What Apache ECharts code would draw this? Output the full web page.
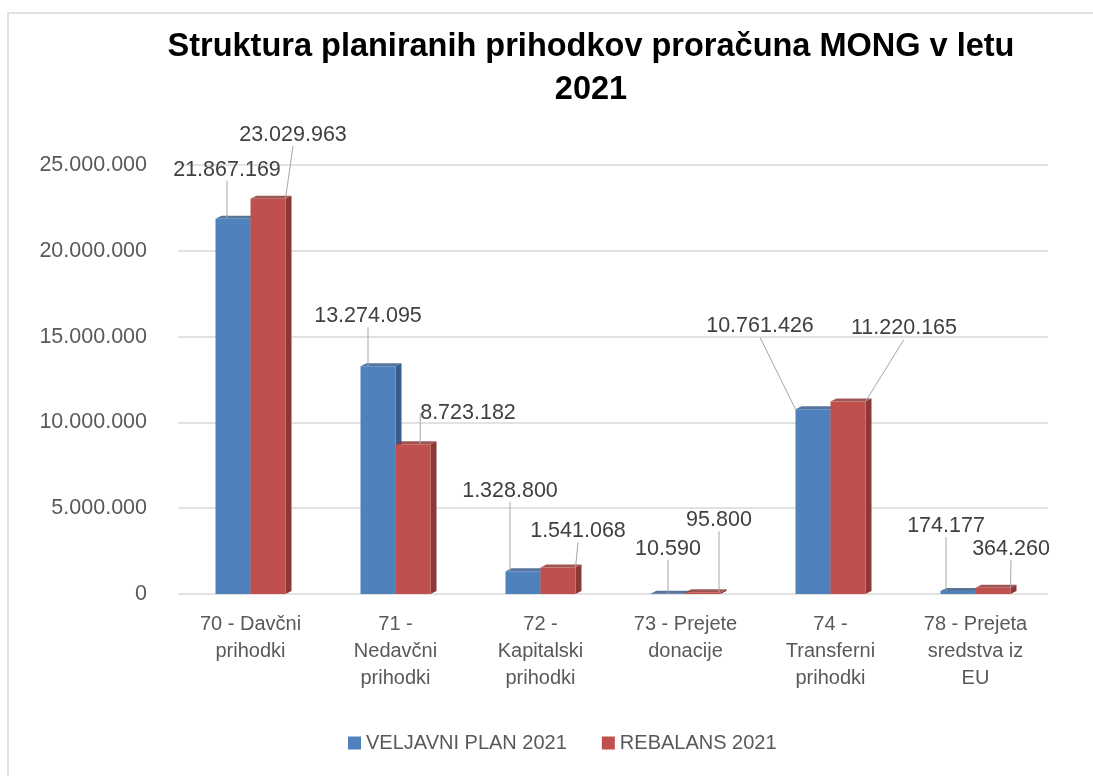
<!DOCTYPE html>
<html>
<head>
<meta charset="utf-8">
<script src="https://cdn.jsdelivr.net/npm/echarts@6/dist/echarts.min.js"></script>
<style>
	html, body { margin: 0; padding: 0; background: #fff; }
	#chart { width: 1093px; height: 776px; }
</style>
</head>
<body>
<div id="chart"></div>
<script>
var categories = ['70 - Davčni\nprihodki', '71 -\nNedavčni\nprihodki', '72 -\nKapitalski\nprihodki',
	'73 - Prejete\ndonacije', '74 -\nTransferni\nprihodki', '78 - Prejeta\nsredstva iz\nEU'];
var planValues = [21867169, 13274095, 1328800, 10590, 10761426, 174177];
var rebalansValues = [23029963, 8723182, 1541068, 95800, 11220165, 364260];
var seriesNames = ['VELJAVNI PLAN 2021', 'REBALANS 2021'];
var yTicks = { min: 0, max: 25000000, interval: 5000000 };

// kam premaknemo oznake (dx, dy) glede na privzeto pozicijo nad stolpcem
var planLabelShift = [[-6, -33], [-10, -34], [-13, -64], [0, -29], [-53, -67], [-12, -49]];
var rebalansLabelShift = [[25, -48], [55, -15], [20, -20], [16, -56], [56, -57], [18, -23]];

(function(){
	var chart = echarts.init(document.getElementById('chart')),
		font = '"Liberation Sans", Arial, sans-serif',
		barW = 35,
		depthX = 6,
		depthY = -3;

	function fmt(v) {
		return String(Math.round(v)).replace(/\B(?=(\d{3})+(?!\d))/g, '.');
	}

	// stranska in zgornja ploskev (3D videz)
	function depthSeries(values, side, dark) {
		return {
			type: 'custom',
			z: 1,
			silent: true,
			data: values.map(function (v, i) { return [i, v]; }),
			renderItem: function (params, api) {
				var top = api.coord([api.value(0), api.value(1)]),
					base = api.coord([api.value(0), 0]),
					x0 = top[0] + (side < 0 ? -barW : 0),
					x1 = x0 + barW;
				return {
					type: 'group',
					children: [{
						type: 'polygon',
						shape: { points: [[x1, top[1]], [x1 + depthX, top[1] + depthY], [x1 + depthX, base[1] + depthY], [x1, base[1]]] },
						style: { fill: dark }
					}, {
						type: 'polygon',
						shape: { points: [[x0, top[1]], [x0 + depthX, top[1] + depthY], [x1 + depthX, top[1] + depthY], [x1, top[1]]] },
						style: { fill: dark, opacity: 0.85 }
					}]
				};
			}
		};
	}

	function barSeries(name, values, color, shift) {
		return {
			name: name,
			type: 'bar',
			z: 2,
			barWidth: barW,
			barGap: '0%',
			data: values,
			itemStyle: { color: color },
			label: {
				show: true,
				position: 'top',
				distance: 5,
				fontFamily: font,
				fontSize: 21.5,
				color: '#404040',
				formatter: function (p) { return fmt(p.value); }
			},
			labelLine: {
				show: true,
				lineStyle: { color: '#a6a6a6', width: 1 }
			},
			labelLayout: function (p) {
				var s = shift[p.dataIndex];
				return { dx: s[0], dy: s[1] };
			}
		};
	}

	var option = {
		backgroundColor: '#fff',
		animation: false,
		textStyle: { fontFamily: font },
		title: {
			text: 'Struktura planiranih prihodkov proračuna MONG v letu\n2021',
			left: 586,
			textAlign: 'center',
			top: 21,
			textStyle: {
				fontFamily: font,
				fontWeight: 'bold',
				fontSize: 32.5,
				lineHeight: 43,
				color: '#000'
			}
		},
		graphic: [{
			type: 'rect',
			shape: { x: 8, y: 13, width: 1200, height: 900 },
			style: { fill: 'none', stroke: '#d9d9d9', lineWidth: 1.5 },
			silent: true,
			z: -1
		}],
		legend: {
			data: seriesNames,
			bottom: 18,
			left: 343,
			itemGap: 35,
			itemWidth: 13,
			itemHeight: 13,
			icon: 'rect',
			textStyle: { fontSize: 20, color: '#595959', fontFamily: font }
		},
		grid: { left: 178, right: 45, top: 165, bottom: 182 },
		xAxis: {
			type: 'category',
			data: categories,
			axisLine: { show: false },
			axisTick: { show: false },
			axisLabel: {
				interval: 0,
				margin: 17,
				fontSize: 20,
				lineHeight: 27,
				color: '#595959',
				fontFamily: font
			}
		},
		yAxis: {
			type: 'value',
			min: yTicks.min,
			max: yTicks.max,
			interval: yTicks.interval,
			axisLine: { show: false },
			axisTick: { show: false },
			axisLabel: {
				margin: 31,
				fontSize: 21.5,
				color: '#595959',
				fontFamily: font,
				formatter: fmt
			},
			splitLine: { lineStyle: { color: '#d9d9d9', width: 1.5 } }
		},
		series: [
			depthSeries(planValues, -1, '#385d8a'),
			depthSeries(rebalansValues, 1, '#8c3836'),
			barSeries(seriesNames[0], planValues, '#4f81bd', planLabelShift),
			barSeries(seriesNames[1], rebalansValues, '#c0504d', rebalansLabelShift)
		]
	};
	chart.setOption(option);
}());
</script>
</body>
</html>
